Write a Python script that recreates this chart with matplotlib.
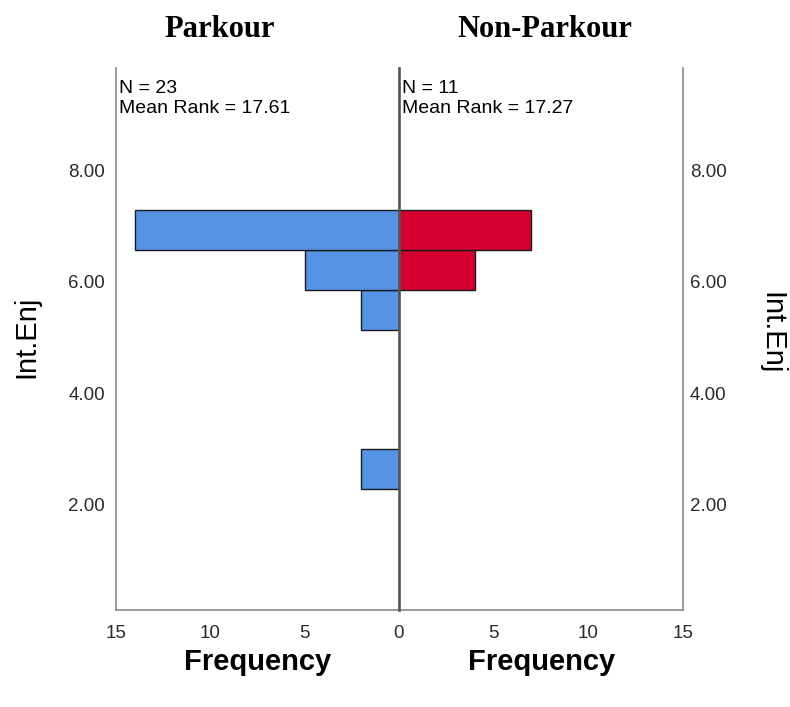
import matplotlib
matplotlib.use("Agg")
import matplotlib.pyplot as plt

# histogram bins of Int.Enj (lower edges), bin width
bin_edges = [2.29, 3.00, 3.71, 4.43, 5.14, 5.86, 6.57, 7.29]
parkour_counts = [2, 0, 0, 0, 2, 5, 14]
nonparkour_counts = [0, 0, 0, 0, 0, 4, 7]

group_names = ["Parkour", "Non-Parkour"]
group_stats = ["N = 23\nMean Rank = 17.61", "N = 11\nMean Rank = 17.27"]
y_ticks = [2, 4, 6, 8]
y_ticklabels = ["2.00", "4.00", "6.00", "8.00"]
x_ticks = [0, 5, 10, 15]

blue = "#5594E4"
red = "#D5002F"
edge = "#1a1a1a"
frame_col = "#8a8a8a"
sans = "Liberation Sans"

fig = plt.figure(figsize=(7.9, 7.07), dpi=100)
axl = fig.add_axes([0.1468, 0.1372, 0.3582, 0.7666])
axr = fig.add_axes([0.5050, 0.1372, 0.3595, 0.7666], sharey=axl)
axr.patch.set_visible(False)

lows = bin_edges[:-1]
widths = [b - a for a, b in zip(bin_edges[:-1], bin_edges[1:])]

for ax, counts, col in [(axl, parkour_counts, blue), (axr, nonparkour_counts, red)]:
    ys = [y for y, c in zip(lows, counts) if c > 0]
    hs = [h for h, c in zip(widths, counts) if c > 0]
    cs = [c for c in counts if c > 0]
    ax.barh(ys, cs, height=hs, align="edge", color=col, edgecolor=edge, linewidth=1.0, zorder=2)
    ax.spines["top"].set_visible(False)
    ax.tick_params(length=0, labelsize=13.5, labelcolor="#2a2a2a")

axl.set_xlim(15, 0)
axr.set_xlim(0, 15)
axl.set_ylim(0.11, 9.84)

axl.set_xticks(x_ticks)
axr.set_xticks(x_ticks[1:])
axl.set_yticks(y_ticks)
axl.set_yticklabels(y_ticklabels)
axl.tick_params(axis="y", pad=8)
axl.tick_params(axis="x", pad=11)
axr.tick_params(axis="x", pad=11)
axr.yaxis.tick_right()
axr.tick_params(axis="y", pad=5, labelleft=False, labelright=True)

for lab in axl.get_xticklabels() + axl.get_yticklabels() + axr.get_xticklabels() + axr.get_yticklabels():
    lab.set_fontfamily(sans)

axl.spines["left"].set_color(frame_col)
axl.spines["bottom"].set_color(frame_col)
axl.spines["right"].set_visible(False)
# centre line between the two panels
axr.spines["left"].set_color("#555555")
axr.spines["left"].set_linewidth(1.9)
axr.spines["left"].set_zorder(3)
axr.spines["right"].set_color(frame_col)
axr.spines["bottom"].set_color(frame_col)
axl.spines["left"].set_linewidth(1.2)
axl.spines["bottom"].set_linewidth(1.2)
axr.spines["bottom"].set_linewidth(1.2)
axr.spines["right"].set_linewidth(1.2)

# stats text in upper left of each panel
axl.text(0.012, 0.978, group_stats[0], transform=axl.transAxes, ha="left", va="top",
         fontsize=14, family=sans, linespacing=1.2)
axr.text(0.012, 0.978, group_stats[1], transform=axr.transAxes, ha="left", va="top",
         fontsize=14, family=sans, linespacing=1.2)

# group titles
fig.text(0.278, 0.958, group_names[0], ha="center", va="center", fontsize=22,
         fontweight="bold", family="Liberation Serif")
fig.text(0.690, 0.958, group_names[1], ha="center", va="center", fontsize=22,
         fontweight="bold", family="Liberation Serif")

# axis labels
fig.text(0.326, 0.064, "Frequency", ha="center", va="center", fontsize=21,
         fontweight="bold", family=sans)
fig.text(0.685, 0.064, "Frequency", ha="center", va="center", fontsize=21,
         fontweight="bold", family=sans)
fig.text(0.034, 0.523, "Int.Enj", ha="center", va="center", rotation=90,
         fontsize=21, family=sans)
fig.text(0.976, 0.529, "Int.Enj", ha="center", va="center", rotation=270,
         fontsize=21, family=sans)

fig.savefig("out.png", dpi=100)
